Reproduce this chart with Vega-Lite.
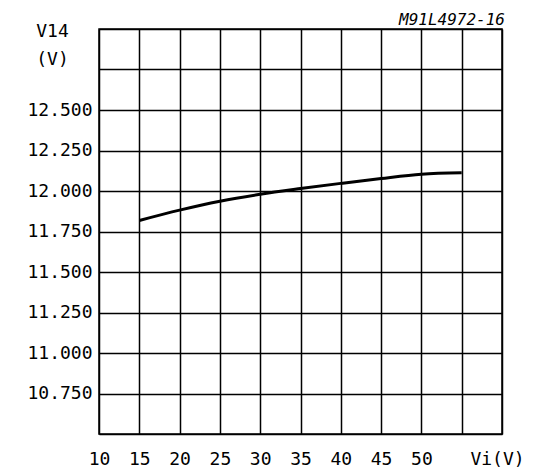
{
  "$schema": "https://vega.github.io/schema/vega-lite/v6.json",
  "width": 403,
  "height": 405,
  "autosize": {"type": "none"},
  "padding": {"left": 99, "top": 29, "right": 37, "bottom": 37},
  "background": "white",
  "title": {"text": "M91L4972-16", "anchor": "end", "frame": "group", "fontStyle": "italic", "font": "DejaVu Sans Mono", "fontSize": 16, "fontWeight": "normal", "color": "black", "offset": 0, "dy": 8, "dx": 3},
  "data": {"values": [
    {"vi": 15, "v14": 11.818},
    {"vi": 20, "v14": 11.882},
    {"vi": 25, "v14": 11.937},
    {"vi": 30, "v14": 11.980},
    {"vi": 35, "v14": 12.015},
    {"vi": 40, "v14": 12.047},
    {"vi": 45, "v14": 12.077},
    {"vi": 50, "v14": 12.103},
    {"vi": 55, "v14": 12.112}
  ]},
  "mark": {"type": "line", "color": "black", "strokeWidth": 3, "interpolate": "monotone"},
  "encoding": {
    "x": {
      "field": "vi", "type": "quantitative",
      "scale": {"domain": [10, 60], "nice": false, "zero": false},
      "axis": {
        "values": [10, 15, 20, 25, 30, 35, 40, 45, 50, 55, 60],
        "title": null, "grid": true, "gridColor": "black", "gridWidth": 1.5, "gridOpacity": 1,
        "ticks": false, "domain": false,
        "labelExpr": "datum.value == 60 ? 'Vi(V)' : (datum.value == 55 ? '' : datum.label)",
        "labelFont": "DejaVu Sans Mono", "labelFontSize": 18, "labelColor": "black",
        "labelOffset": {"condition": {"test": "datum.value == 60", "value": -5}, "value": 0},
        "labelPadding": 16, "labelOverlap": false, "labelBound": false, "labelFlush": false
      }
    },
    "y": {
      "field": "v14", "type": "quantitative",
      "scale": {"domain": [10.5, 13], "nice": false, "zero": false},
      "axis": {
        "values": [10.5, 10.75, 11, 11.25, 11.5, 11.75, 12, 12.25, 12.5, 12.75, 13],
        "grid": true, "gridColor": "black", "gridWidth": 1.5, "gridOpacity": 1,
        "ticks": false, "domain": false,
        "labelExpr": "(datum.value > 12.6 || datum.value < 10.6) ? '' : format(datum.value, '.3f')",
        "labelFont": "DejaVu Sans Mono", "labelFontSize": 18, "labelColor": "black",
        "labelPadding": 7, "labelOverlap": false, "labelBound": false, "labelFlush": false,
        "title": ["V14", "(V)"], "titleAngle": 0, "titleAlign": "center", "titleBaseline": "top",
        "titleX": -47, "titleY": -7, "titleFont": "DejaVu Sans Mono", "titleFontSize": 18,
        "titleFontWeight": "normal", "titleColor": "black", "titleLineHeight": 28
      }
    }
  },
  "config": {"view": {"stroke": "black", "strokeWidth": 1.5}}
}
